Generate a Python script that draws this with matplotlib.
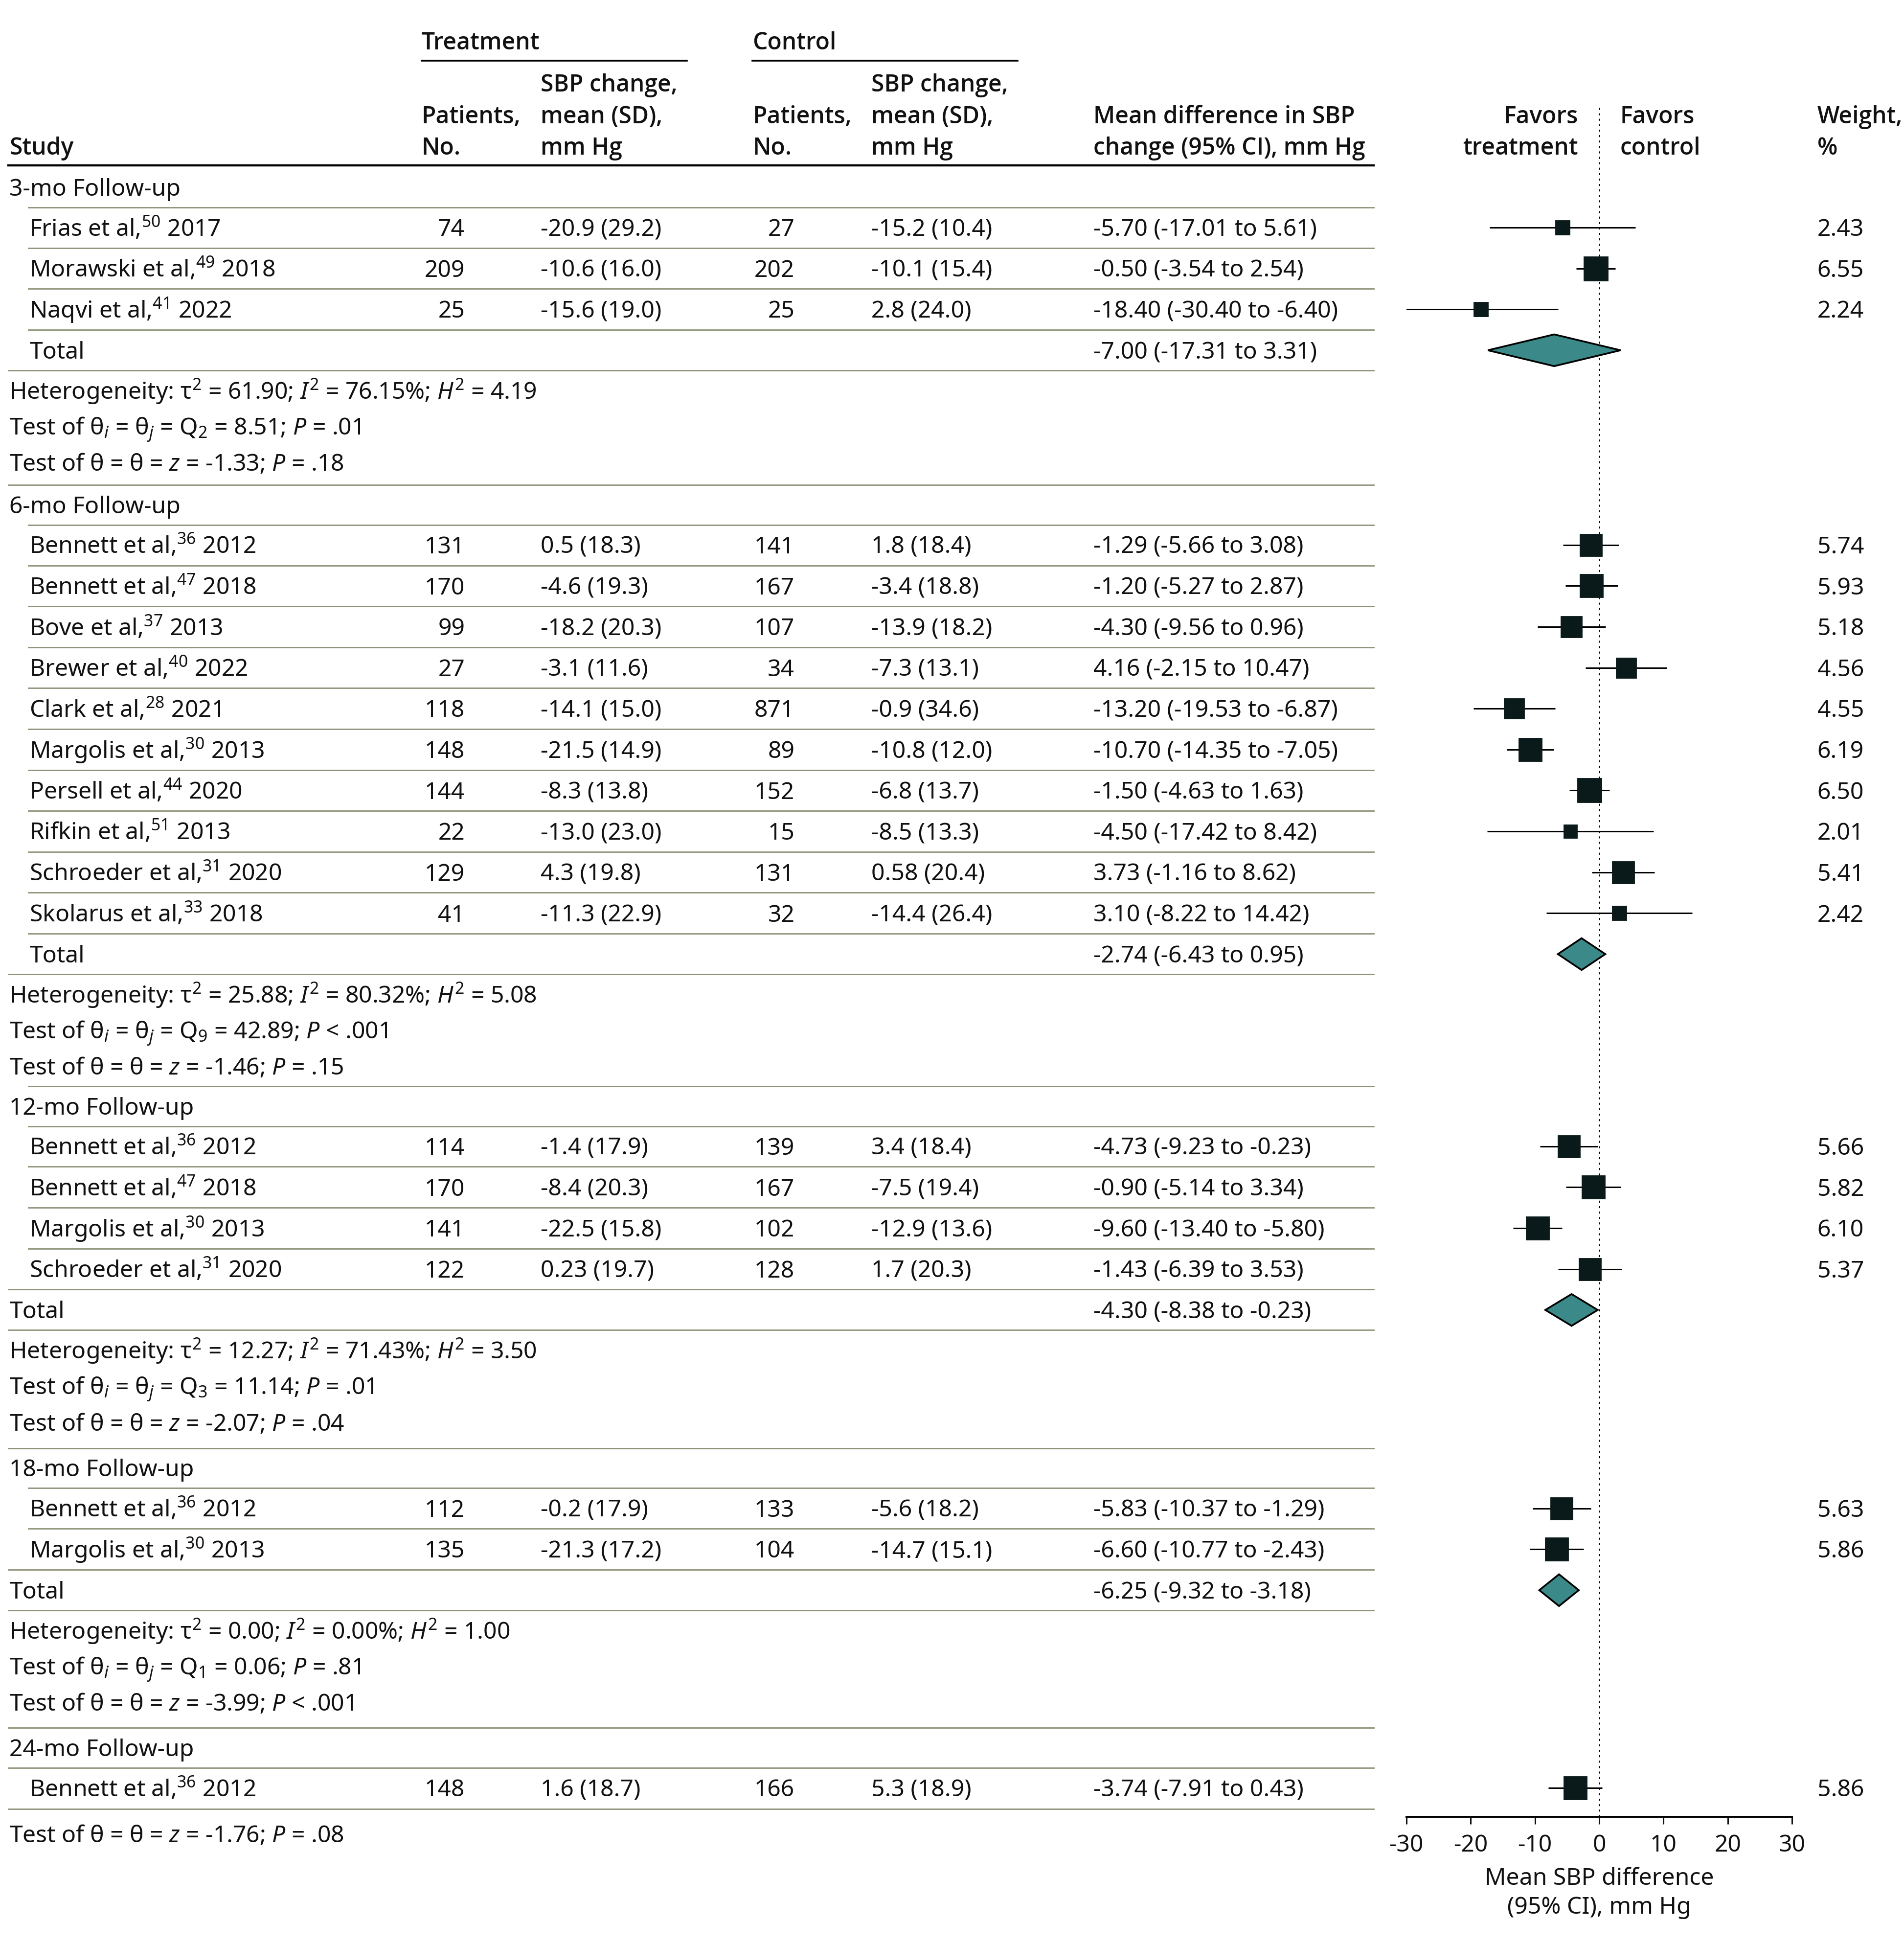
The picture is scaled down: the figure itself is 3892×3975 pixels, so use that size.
import numpy as np
import matplotlib
matplotlib.use("Agg")
import matplotlib.pyplot as plt
from matplotlib.patches import Polygon

plt.rcParams['font.family'] = ['Noto Sans', 'DejaVu Sans']
plt.rcParams['mathtext.fontset'] = 'custom'
plt.rcParams['mathtext.rm'] = 'Noto Sans'
plt.rcParams['mathtext.it'] = 'Noto Sans:italic'
plt.rcParams['mathtext.bf'] = 'Noto Sans:bold'
plt.rcParams['axes.unicode_minus'] = False

# ---- data ----
groups = ["3-mo Follow-up", "6-mo Follow-up", "12-mo Follow-up", "18-mo Follow-up", "24-mo Follow-up"]

study_group = [0, 0, 0,
               1, 1, 1, 1, 1, 1, 1, 1, 1, 1,
               2, 2, 2, 2,
               3, 3,
               4]
study_names = ["Frias et al", "Morawski et al", "Naqvi et al",
               "Bennett et al", "Bennett et al", "Bove et al", "Brewer et al", "Clark et al",
               "Margolis et al", "Persell et al", "Rifkin et al", "Schroeder et al", "Skolarus et al",
               "Bennett et al", "Bennett et al", "Margolis et al", "Schroeder et al",
               "Bennett et al", "Margolis et al",
               "Bennett et al"]
study_refs = ["50", "49", "41",
              "36", "47", "37", "40", "28", "30", "44", "51", "31", "33",
              "36", "47", "30", "31",
              "36", "30",
              "36"]
study_years = ["2017", "2018", "2022",
               "2012", "2018", "2013", "2022", "2021", "2013", "2020", "2013", "2020", "2018",
               "2012", "2018", "2013", "2020",
               "2012", "2013",
               "2012"]
trt_n = [74, 209, 25,
         131, 170, 99, 27, 118, 148, 144, 22, 129, 41,
         114, 170, 141, 122,
         112, 135,
         148]
trt_change = ["-20.9 (29.2)", "-10.6 (16.0)", "-15.6 (19.0)",
              "0.5 (18.3)", "-4.6 (19.3)", "-18.2 (20.3)", "-3.1 (11.6)", "-14.1 (15.0)",
              "-21.5 (14.9)", "-8.3 (13.8)", "-13.0 (23.0)", "4.3 (19.8)", "-11.3 (22.9)",
              "-1.4 (17.9)", "-8.4 (20.3)", "-22.5 (15.8)", "0.23 (19.7)",
              "-0.2 (17.9)", "-21.3 (17.2)",
              "1.6 (18.7)"]
ctl_n = [27, 202, 25,
         141, 167, 107, 34, 871, 89, 152, 15, 131, 32,
         139, 167, 102, 128,
         133, 104,
         166]
ctl_change = ["-15.2 (10.4)", "-10.1 (15.4)", "2.8 (24.0)",
              "1.8 (18.4)", "-3.4 (18.8)", "-13.9 (18.2)", "-7.3 (13.1)", "-0.9 (34.6)",
              "-10.8 (12.0)", "-6.8 (13.7)", "-8.5 (13.3)", "0.58 (20.4)", "-14.4 (26.4)",
              "3.4 (18.4)", "-7.5 (19.4)", "-12.9 (13.6)", "1.7 (20.3)",
              "-5.6 (18.2)", "-14.7 (15.1)",
              "5.3 (18.9)"]
mean_diff = [-5.70, -0.50, -18.40,
             -1.29, -1.20, -4.30, 4.16, -13.20, -10.70, -1.50, -4.50, 3.73, 3.10,
             -4.73, -0.90, -9.60, -1.43,
             -5.83, -6.60,
             -3.74]
ci_low = [-17.01, -3.54, -30.40,
          -5.66, -5.27, -9.56, -2.15, -19.53, -14.35, -4.63, -17.42, -1.16, -8.22,
          -9.23, -5.14, -13.40, -6.39,
          -10.37, -10.77,
          -7.91]
ci_high = [5.61, 2.54, -6.40,
           3.08, 2.87, 0.96, 10.47, -6.87, -7.05, 1.63, 8.42, 8.62, 14.42,
           -0.23, 3.34, -5.80, 3.53,
           -1.29, -2.43,
           0.43]
weights = [2.43, 6.55, 2.24,
           5.74, 5.93, 5.18, 4.56, 4.55, 6.19, 6.50, 2.01, 5.41, 2.42,
           5.66, 5.82, 6.10, 5.37,
           5.63, 5.86,
           5.86]

total_md = [-7.00, -2.74, -4.30, -6.25]
total_lo = [-17.31, -6.43, -8.38, -9.32]
total_hi = [3.31, 0.95, -0.23, -3.18]

het_tau2 = ["61.90", "25.88", "12.27", "0.00"]
het_i2 = ["76.15", "80.32", "71.43", "0.00"]
het_h2 = ["4.19", "5.08", "3.50", "1.00"]
q_df = ["2", "9", "3", "1"]
q_val = ["8.51", "42.89", "11.14", "0.06"]
q_p = ["= .01", "< .001", "= .01", "= .81"]
z_val = ["-1.33", "-1.46", "-2.07", "-3.99", "-1.76"]
z_p = ["= .18", "= .15", "= .04", "< .001", "= .08"]

# ---- layout (units: reference pixels / 2.534) ----
W, H = 3892 / 2.534, 3975 / 2.534
FS = 17.3
BL = 6.8           # baseline offset below the visual centre of a row
TXT = '#111111'
GRID = '#8b9378'
X0, XIN = 7.6, 23.8
X_TN, X_TC, X_CN, X_CC, X_MD, X_W = 375, 436, 641, 703, 882, 1466
LINE_END = 1108
FX0, FX1 = 1134.4, 1445.7
FY0, FY1 = 84, 1465.3

fig = plt.figure(figsize=(19.46, 19.875), dpi=200)
ax = fig.add_axes([0, 0, 1, 1])
ax.set_xlim(0, W)
ax.set_ylim(H, 0)
ax.axis('off')

axf = fig.add_axes([FX0 / W, 1 - FY1 / H, (FX1 - FX0) / W, (FY1 - FY0) / H])
axf.set_xlim(-30, 30)
axf.set_ylim(FY1, FY0)
axf.patch.set_alpha(0)
for s in ['left', 'right', 'top']:
    axf.spines[s].set_visible(False)
axf.spines['bottom'].set_linewidth(1.4)
axf.set_yticks([])
axf.set_xticks(np.arange(-30, 31, 10))
axf.tick_params(axis='x', length=5.4, width=1.1, pad=7, labelsize=FS, colors=TXT)
axf.axvline(0, color='black', lw=1.0, ls=(0, (1.5, 2.5)), zorder=1)


def txt(x, y, s, **kw):
    ax.text(x, y + BL, s, fontsize=FS, color=TXT, va='baseline', **kw)


def hline(x0, y):
    ax.plot([x0, LINE_END], [y, y], color=GRID, lw=1.0)


# header (semibold)
hd = dict(family=['Open Sans', 'Noto Sans', 'DejaVu Sans'], fontweight='semibold')
txt(340, 33, "Treatment", **hd)
txt(607, 33, "Control", **hd)
ax.plot([340, 554], [49, 49], color='black', lw=1.3)
ax.plot([607, 821], [49, 49], color='black', lw=1.3)
header_cols = [(X0, ["Study"]), (340, ["No.", "Patients,"]), (436, ["mm Hg", "mean (SD),", "SBP change,"]),
               (607, ["No.", "Patients,"]), (703, ["mm Hg", "mean (SD),", "SBP change,"]),
               (X_MD, ["change (95% CI), mm Hg", "Mean difference in SBP"]),
               (X_W, ["%", "Weight,"]), (1307, ["control", "Favors"])]
for x, lines in header_cols:
    for k, s in enumerate(lines):
        txt(x, 118 - 25.5 * k, s, **hd)
for k, s in enumerate(["treatment", "Favors"]):
    txt(1273, 118 - 25.5 * k, s, ha='right', **hd)
ax.plot([X0 - 1, LINE_END], [133.5, 133.5], color='black', lw=1.6)

# body
stat_line_x = [X0 - 1, XIN - 1, X0 - 1, X0 - 1]
total_indent = [True, True, False, False]
group_gap = [34, 32, 37, 36.5]
y = 151
for g, gname in enumerate(groups):
    txt(X0, y, gname)
    idx = [i for i, sg in enumerate(study_group) if sg == g]
    lx = XIN - 1 if g < 4 else X0 - 1
    for i in idx:
        prev = y
        y += 33 if i != idx[0] else 32.5
        hline(lx, (prev + y) / 2)
        txt(XIN, y, f"{study_names[i]},$^{{{study_refs[i]}}}$ {study_years[i]}")
        txt(X_TN, y, str(trt_n[i]), ha='right')
        txt(X_TC, y, trt_change[i])
        txt(X_CN, y, str(ctl_n[i]), ha='right')
        txt(X_CC, y, ctl_change[i])
        txt(X_MD, y, f"{mean_diff[i]:.2f} ({ci_low[i]:.2f} to {ci_high[i]:.2f})")
        txt(X_W, y, f"{weights[i]:.2f}")
        axf.hlines(y, ci_low[i], ci_high[i], color='black', lw=1.1, zorder=2)
        side = 18.0 * np.sqrt(weights[i] / 6.55)
        axf.scatter([mean_diff[i]], [y], marker='s', s=side ** 2, color='#0a1919',
                    edgecolors='#0a1919', linewidths=0.3, zorder=3)
    prev = y
    if g < 4:
        y += 33
        hline(XIN - 1 if total_indent[g] else X0 - 1, (prev + y) / 2)
        txt(XIN if total_indent[g] else X0, y, "Total")
        txt(X_MD, y, f"{total_md[g]:.2f} ({total_lo[g]:.2f} to {total_hi[g]:.2f})")
        hh = 12.8
        dia = Polygon([[total_lo[g], y], [total_md[g], y - hh], [total_hi[g], y], [total_md[g], y + hh]],
                      closed=True, facecolor='#3b8a89', edgecolor='black', lw=1.3, zorder=3)
        axf.add_patch(dia)
        prev = y
        y += 32.5
        hline(X0 - 1, (prev + y) / 2)
        txt(X0, y, f"Heterogeneity: τ$^{{2}}$ = {het_tau2[g]}; $I^{{2}}$ = {het_i2[g]}%; $H^{{2}}$ = {het_h2[g]}")
        y += 29
        txt(X0, y, f"Test of θ$_{{i}}$ = θ$_{{j}}$ = Q$_{{{q_df[g]}}}$ = {q_val[g]}; $P$ {q_p[g]}")
        y += 29
        txt(X0, y, f"Test of θ = θ = $z$ = {z_val[g]}; $P$ {z_p[g]}")
        y += group_gap[g]
        hline(stat_line_x[g], y - 16)
    else:
        hline(X0 - 1, y + 17)
        y += 37
        txt(X0, y, f"Test of θ = θ = $z$ = {z_val[g]}; $P$ {z_p[g]}")

axf.text(0, 1515, "Mean SBP difference", fontsize=FS, color=TXT, ha='center', va='center', clip_on=False)
axf.text(0, 1538.5, "(95% CI), mm Hg", fontsize=FS, color=TXT, ha='center', va='center', clip_on=False)

fig.savefig("out.png", dpi=200)
